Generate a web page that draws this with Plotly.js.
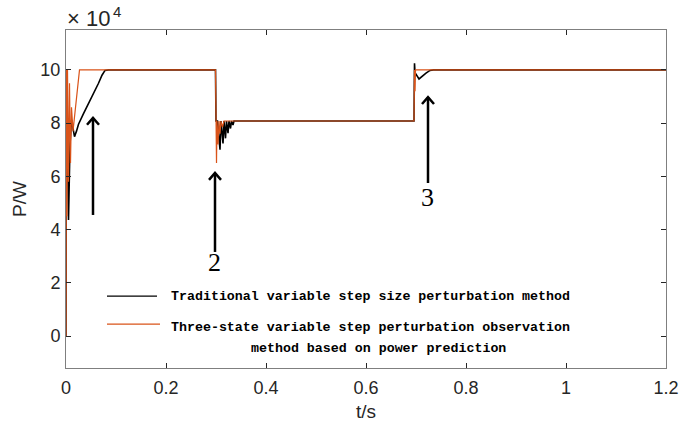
<!DOCTYPE html>
<html>
<head>
<meta charset="utf-8">
<script src="https://cdn.plot.ly/plotly-3.0.1.min.js"></script>
<style>html,body{margin:0;padding:0;background:#fff;}#chart{width:683px;height:425px;}</style>
</head>
<body>
<div id="chart"></div>
<script>
// Traditional variable step size perturbation method
const tTrad = [0, 0.001, 0.002, 0.005, 0.008, 0.011, 0.013, 0.017, 0.021, 0.025, 0.035, 0.045, 0.055, 0.065, 0.072, 0.078, 0.085,
  0.299, 0.300, 0.303, 0.308, 0.310, 0.314, 0.316, 0.319, 0.321, 0.324, 0.326, 0.329, 0.331, 0.334, 0.336,
  0.696, 0.697, 0.698, 0.706, 0.712, 0.720, 0.728, 0.735, 1.2];
const pTrad = [0, 100000, 90000, 43600, 72000, 81200, 79500, 74900, 77000, 79600, 83600, 87200, 91000, 95000, 98000, 99800, 100000,
  100000, 80800, 80800, 70000, 80800, 72400, 80800, 74300, 80800, 76200, 80800, 78000, 80800, 79300, 80800,
  80800, 102500, 99000, 96600, 97600, 98800, 99800, 100000, 100000];

// Three-state variable step perturbation observation method based on power prediction
const tProp = [0, 0.001, 0.002, 0.003, 0.005, 0.007, 0.009, 0.011, 0.014, 0.027,
  0.299, 0.300, 0.301, 0.302, 0.304, 0.306, 0.308, 0.310, 0.313, 0.316,
  0.696, 0.697, 0.698, 0.699, 1.2];
const pProp = [0, 100000, 45000, 100000, 58000, 95000, 65000, 86000, 77000, 100000,
  100000, 80800, 65000, 80800, 72000, 80800, 76000, 80800, 78500, 80800,
  80800, 100000, 92000, 100000, 100000];

const xTicks = [0, 0.2, 0.4, 0.6, 0.8, 1, 1.2];
const xTickText = ['0', '0.2', '0.4', '0.6', '0.8', '1', '1.2'];
const yTicks = [0, 20000, 40000, 60000, 80000, 100000];
const yTickText = ['0', '2', '4', '6', '8', '10'];

const legendNames = ['Traditional variable step size perturbation method',
  'Three-state variable step perturbation observation', 'method based on power prediction'];

// arrows: position, head, tail, label
const arrowT = [0.054, 0.298, 0.724];
const arrowHead = [82000, 61300, 89800];
const arrowTail = [45500, 31600, 57500];
const arrowLabel = ['', '2', '3'];
const arrowLabelY = [0, 27800, 51900];

const black = '#000000';
const orange = '#D95319';

const traces = [
  {x: tTrad, y: pTrad, type: 'scatter', mode: 'lines', name: legendNames[0], line: {color: black, width: 1.6}, showlegend: false},
  {x: tProp, y: pProp, type: 'scatter', mode: 'lines', name: legendNames[1], line: {color: orange, width: 1.2}, showlegend: false}
];

const shapes = [];
const annotations = [];
const dt = 0.012, dp = 2600;
for (let i = 0; i < arrowT.length; i++) {
  shapes.push({type: 'line', xref: 'x', yref: 'y', x0: arrowT[i], x1: arrowT[i], y0: arrowTail[i], y1: arrowHead[i], line: {color: black, width: 2.5}});
  shapes.push({type: 'path', xref: 'x', yref: 'y',
    path: 'M' + (arrowT[i] - dt) + ',' + (arrowHead[i] - dp) + ' L' + arrowT[i] + ',' + arrowHead[i] + ' L' + (arrowT[i] + dt) + ',' + (arrowHead[i] - dp),
    line: {color: black, width: 2.5}});
  if (arrowLabel[i]) {
    annotations.push({x: arrowT[i] - 0.002, y: arrowLabelY[i], xref: 'x', yref: 'y', text: arrowLabel[i], showarrow: false,
      font: {family: 'Liberation Serif', size: 26, color: '#000'}});
  }
}
// legend samples
shapes.push({type: 'line', xref: 'x', yref: 'y', x0: 0.082, x1: 0.182, y0: 15000, y1: 15000, line: {color: black, width: 1.2}});
shapes.push({type: 'line', xref: 'x', yref: 'y', x0: 0.082, x1: 0.188, y0: 4500, y1: 4500, line: {color: orange, width: 1.2}});
const legFont = {family: 'Liberation Mono', size: 13.3, color: '#000', weight: 'bold'};
annotations.push({x: 0.205, y: 15000, xref: 'x', yref: 'y', xanchor: 'left', text: legendNames[0], showarrow: false, font: legFont});
annotations.push({x: 0.608, y: 3400, xref: 'x', yref: 'y', xanchor: 'center', text: legendNames[1], showarrow: false, font: legFont});
annotations.push({x: 0.624, y: -4800, xref: 'x', yref: 'y', xanchor: 'center', text: legendNames[2], showarrow: false, font: legFont});
// exponent
annotations.push({x: 0, y: 1, xref: 'paper', yref: 'paper', xanchor: 'left', yanchor: 'bottom', yshift: -3, xshift: -1,
  text: '× 10', showarrow: false, font: {family: 'Liberation Sans', size: 22, color: '#262626'}});
annotations.push({x: 0, y: 1, xref: 'paper', yref: 'paper', xanchor: 'left', yanchor: 'bottom', yshift: 8, xshift: 45,
  text: '4', showarrow: false, font: {family: 'Liberation Sans', size: 15, color: '#262626'}});

const axisCommon = {
  showline: true, linecolor: '#7f7f7f', linewidth: 1, mirror: 'ticks',
  ticks: 'inside', ticklen: 5, tickcolor: '#262626', tickwidth: 1,
  showgrid: false, zeroline: false,
  tickfont: {family: 'Liberation Sans', size: 18, color: '#262626'}
};

const layout = {
  width: 683, height: 425,
  margin: {l: 66, r: 17, t: 30, b: 57},
  paper_bgcolor: '#fff', plot_bgcolor: '#fff',
  showlegend: false,
  xaxis: Object.assign({}, axisCommon, {range: [0, 1.2], tickvals: xTicks, ticktext: xTickText, ticklabelstandoff: 3,
    title: {text: 't/s', font: {family: 'Liberation Sans', size: 19, color: '#262626'}, standoff: 8}}),
  yaxis: Object.assign({}, axisCommon, {range: [-12000, 115000], tickvals: yTicks, ticktext: yTickText, ticklabelstandoff: 1,
    title: {text: 'P/W', font: {family: 'Liberation Sans', size: 19, color: '#262626'}, standoff: 8}}),
  shapes: shapes,
  annotations: annotations
};

Plotly.newPlot('chart', traces, layout, {displayModeBar: false, staticPlot: true});
</script>
</body>
</html>
